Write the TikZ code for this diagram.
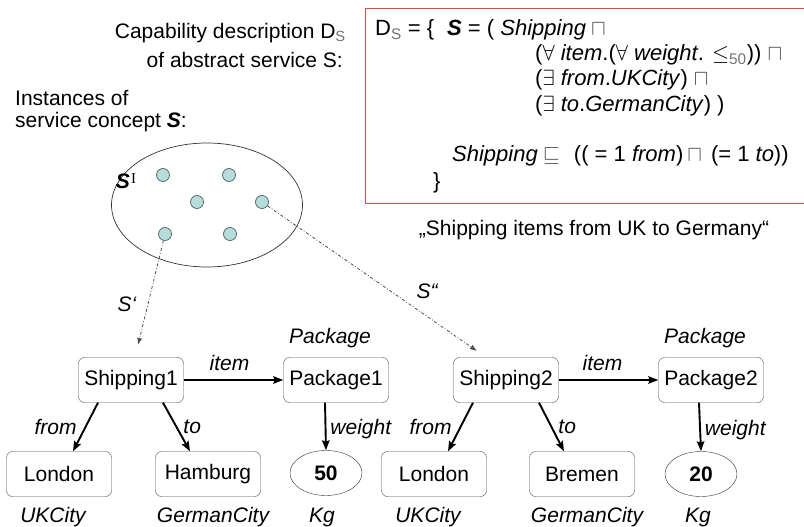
\RequirePackage{fix-cm}
\documentclass[tikz,border=0pt]{standalone}
\usepackage{fontspec}
\setmainfont{Liberation Sans}
\newfontfamily\seriffont{Liberation Serif}
\usetikzlibrary{arrows.meta,shapes.geometric}

\definecolor{dotfill}{HTML}{B8DCDC}
\definecolor{dotline}{HTML}{4A6464}
\definecolor{boxred}{HTML}{E04848}

\tikzset{
  txt/.style={inner sep=0pt, font=\fontsize{21}{25}\selectfont},
  lbl/.style={inner sep=0pt, font=\fontsize{21}{25}\selectfont\itshape},
  deftxt/.style={inner sep=0pt, anchor=base west, font=\fontsize{22}{26}\selectfont},
  inst/.style={draw=black!70, rounded corners=6pt, minimum width=105pt,
    minimum height=45pt, inner sep=0pt, fill=white, font=\fontsize{21}{25}\selectfont},
  val/.style={draw=black!80, ellipse, minimum width=72pt, minimum height=45pt,
    inner sep=0pt, font=\fontsize{21}{25}\selectfont\bfseries},
  dot/.style={circle, draw=dotline, fill=dotfill, minimum size=13pt, inner sep=0pt, line width=0.7pt},
  rel/.style={line width=1.9pt, -{Stealth[length=10pt,width=7.5pt,inset=1.5pt]}},
  interp/.style={draw=black!70, line width=0.8pt, dash dot, -{Latex[length=7pt,width=5pt]}}
}

\newcommand{\subgray}[1]{{\color{black!55}\textsubscript{#1}}}
\newcommand{\dlop}[1]{{\color{black!70}$#1$}}

\begin{document}
\begin{tikzpicture}[x=1pt, y=-1pt]
\useasboundingbox (0,0) rectangle (804,527);

% capability description
\node[txt, anchor=east] (cap1) at (346,33) {Capability description D\subgray{S}};
\node[txt, anchor=east] (cap2) at (343,60) {of abstract service S:};

\draw[boxred, line width=0.8pt] (810,8) -- (365.5,8) -- (365.5,203) -- (810,203);
\node[deftxt] (d1a) at (375,36) {D\subgray{S} = \{};
\node[deftxt] (d1b) at (447,36) {\textbf{\textit{S}} = ( \textit{Shipping}\hspace{5pt}\dlop{\sqcap}};
\node[deftxt] (d2) at (535,61) {($\forall$ \textit{item}.($\forall$ \textit{weight}. $\leq$\subgray{50})) \dlop{\sqcap}};
\node[deftxt] (d3) at (535,86) {($\exists$ \textit{from}.\textit{UKCity}) \dlop{\sqcap}};
\node[deftxt] (d4) at (535,111) {($\exists$ \textit{to}.\textit{GermanCity}) )};
\node[deftxt] (d5) at (452,161) {\textit{Shipping}\hspace{5pt}\dlop{\sqsubseteq}\hspace{14pt}(( = 1 \textit{from})\hspace{4pt}\dlop{\sqcap}\hspace{9pt}(= 1 \textit{to}))};
\node[deftxt] (d6) at (433,188) {\}};

\node[txt] (quote) at (594,230) {„Shipping items from UK to Germany“};

% extension of the service concept
\node[txt, anchor=west] (inst1) at (15,98) {Instances of};
\node[txt, anchor=west] (inst2) at (15,122) {service concept \textbf{\textit{S}}:};

\node[draw=black!80, ellipse, minimum width=191pt, minimum height=124pt, line width=0.7pt] (ext) at (207,205) {};
\node[txt] (si) at (126,181) {\textbf{\textit{S}}\hspace{1pt}{\seriffont\raisebox{5pt}{\fontsize{15}{15}\selectfont I}}};

\node[dot] (p1) at (163,175) {};
\node[dot] (p2) at (229,175) {};
\node[dot] (p3) at (197,202) {};
\node[dot] (p4) at (262,202) {};
\node[dot] (p5) at (165,234) {};
\node[dot] (p6) at (230,234) {};

% first instance
\node[inst] (sh1) at (131,380) {Shipping1};
\node[inst] (pk1) at (336,380) {Package1};
\node[inst] (lon1) at (59,474) {London};
\node[inst] (ham) at (208,474) {Hamburg};
\node[val] (w50) at (326,473) {50};

\node[lbl] (c1) at (330,338) {Package};
\node[lbl] (c2) at (53,517) {UKCity};
\node[lbl] (c3) at (213,517) {GermanCity};
\node[lbl] (c4) at (322,517) {Kg};

\draw[rel] (sh1) -- node[lbl, above=8pt, xshift=-4pt] (r1) {item} (pk1);
\draw[rel] ([xshift=-33pt]sh1.south) -- node[lbl, left=8pt] (r2) {from} ([xshift=14pt]lon1.north);
\draw[rel] ([xshift=32pt]sh1.south) -- node[lbl, right=6pt] (r3) {to} ([xshift=-18pt]ham.north);
\draw[rel] ([xshift=-11pt]pk1.south) -- node[lbl, right=4pt, yshift=-3pt] (r4) {weight} (w50.north);

% second instance
\node[inst] (sh2) at (506,380) {Shipping2};
\node[inst] (pk2) at (711,380) {Package2};
\node[inst] (lon2) at (434,474) {London};
\node[inst] (bre) at (582,474) {Bremen};
\node[val] (w20) at (701,474) {20};

\node[lbl] (e1) at (705,338) {Package};
\node[lbl] (e2) at (428,517) {UKCity};
\node[lbl] (e3) at (587,517) {GermanCity};
\node[lbl] (e4) at (698,517) {Kg};

\draw[rel] (sh2) -- node[lbl, above=8pt, xshift=-6pt] (q1) {item} (pk2);
\draw[rel] ([xshift=-33pt]sh2.south) -- node[lbl, left=8pt] (q2) {from} ([xshift=14pt]lon2.north);
\draw[rel] ([xshift=33pt]sh2.south) -- node[lbl, right=6pt] (q3) {to} ([xshift=-18pt]bre.north);
\draw[rel] ([xshift=-12pt]pk2.south) -- node[lbl, right=4pt, yshift=-3pt] (q4) {weight} (w20.north);

% interpretation links
\coordinate (t1) at (138,345);
\coordinate (t2) at (477,351);
\draw[interp] (p5) -- (t1);
\draw[interp] (p4) -- (t2);
\node[lbl] (s1) at (127,304) {S‘};
\node[lbl] (s2) at (427,291) {S“};
\end{tikzpicture}
\end{document}
